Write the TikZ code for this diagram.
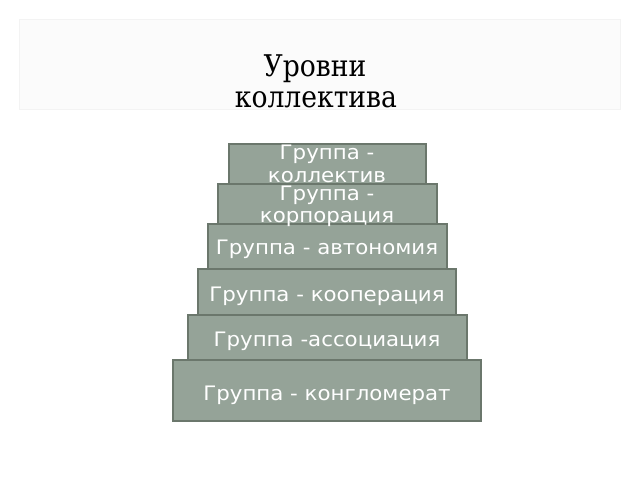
\documentclass[tikz,border=0pt]{standalone}
\usepackage{fontspec}
\newfontfamily\boxfont[FakeStretch=1.07]{DejaVu Sans}
\newfontfamily\titlefont[FakeStretch=0.89]{DejaVu Serif}
\definecolor{boxfill}{RGB}{149,163,152}
\definecolor{boxline}{RGB}{107,119,108}
\definecolor{titlefill}{RGB}{251,251,251}
\definecolor{titleline}{RGB}{243,243,243}
\begin{document}
\begin{tikzpicture}[x=1bp,y=-1bp,
  stepbox/.style={draw=boxline,fill=boxfill,line width=1.5bp,inner sep=0pt},
  steptext/.style={text=white,font=\boxfont\fontsize{20}{23}\selectfont,anchor=base,inner sep=0pt},
  titletext/.style={font=\titlefont\fontsize{30}{33}\selectfont,anchor=base,inner sep=0pt}]
\useasboundingbox (0,0) rectangle (640,480);
\fill[white] (0,0) rectangle (640,480);
% title panel
\node[draw=titleline,fill=titlefill,line width=1bp,minimum width=600bp,minimum height=90bp,inner sep=0pt] (panel) at (320,65) {};
\node[titletext] (title1) at (315,77) {Уровни};
\node[titletext] (title2) at (316,108) {коллектива};
% steps
\node[stepbox,minimum width=197bp,minimum height=41bp] (b1) at (327.5,164.5) {};
\node[stepbox,minimum width=219bp,minimum height=40bp] (b2) at (327.5,204) {};
\node[stepbox,minimum width=239bp,minimum height=45bp] (b3) at (327.5,246.5) {};
\node[stepbox,minimum width=258bp,minimum height=46bp] (b4) at (327,292) {};
\node[stepbox,minimum width=279bp,minimum height=45bp] (b5) at (327.5,337.5) {};
\node[stepbox,minimum width=308bp,minimum height=61bp] (b6) at (327,390.5) {};
% texts
\node[steptext] (t1a) at (327,160) {Группа -};
\node[steptext] (t1b) at (327,183) {коллектив};
\node[steptext] (t2a) at (327,201) {Группа -};
\node[steptext] (t2b) at (327,223) {корпорация};
\node[steptext] (t3) at (327,255) {Группа - автономия};
\node[steptext] (t4) at (327,301) {Группа - кооперация};
\node[steptext] (t5) at (327,346) {Группа -ассоциация};
\node[steptext] (t6) at (327,400) {Группа - конгломерат};
\end{tikzpicture}
\end{document}
